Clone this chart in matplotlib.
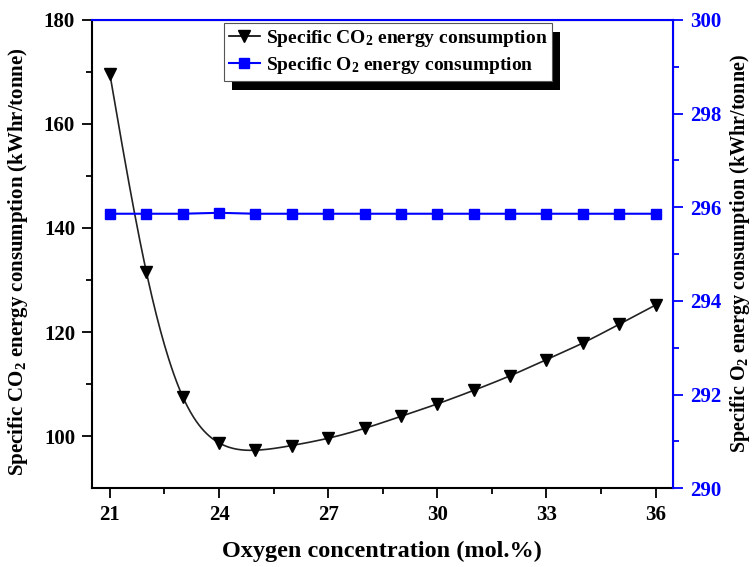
import numpy as np
import matplotlib
matplotlib.use("Agg")
import matplotlib.pyplot as plt
from matplotlib.patches import Rectangle

# ── DATA ─────────────────────────────────────────────────────────────────────
oxygen = [21, 22, 23, 24, 25, 26, 27, 28, 29, 30, 31, 32, 33, 34, 35, 36]
co2_energy = [169.5, 131.6, 107.6, 98.7, 97.3, 98.2, 99.6, 101.5, 103.8,
              106.2, 108.8, 111.6, 114.7, 117.9, 121.5, 125.2]
o2_energy = [295.86, 295.86, 295.86, 295.88, 295.86, 295.86, 295.86, 295.86,
             295.86, 295.86, 295.86, 295.86, 295.86, 295.86, 295.86, 295.86]

# ── STYLE ────────────────────────────────────────────────────────────────────
plt.rcParams["font.family"] = ["Liberation Serif", "DejaVu Serif"]
plt.rcParams["font.weight"] = "bold"
plt.rcParams["axes.labelweight"] = "bold"
plt.rcParams["mathtext.fontset"] = "custom"
plt.rcParams["mathtext.rm"] = "Liberation Serif:bold"
plt.rcParams["mathtext.it"] = "Liberation Serif:bold"
plt.rcParams["mathtext.bf"] = "Liberation Serif:bold"

BLUE = "#0000ff"


def natural_spline(x, y, n=400):
    """Natural cubic spline through the points (for the smooth line only)."""
    x = np.asarray(x, float)
    y = np.asarray(y, float)
    h = np.diff(x)
    k = len(x)
    A = np.zeros((k, k))
    r = np.zeros(k)
    A[0, 0] = A[-1, -1] = 1
    for i in range(1, k - 1):
        A[i, i - 1] = h[i - 1]
        A[i, i] = 2 * (h[i - 1] + h[i])
        A[i, i + 1] = h[i]
        r[i] = 6 * ((y[i + 1] - y[i]) / h[i] - (y[i] - y[i - 1]) / h[i - 1])
    m = np.linalg.solve(A, r)
    xs = np.linspace(x[0], x[-1], n)
    idx = np.clip(np.searchsorted(x, xs) - 1, 0, k - 2)
    x0, x1 = x[idx], x[idx + 1]
    hh = x1 - x0
    a = (x1 - xs) / hh
    b = (xs - x0) / hh
    ys = (a * y[idx] + b * y[idx + 1]
          + ((a ** 3 - a) * m[idx] + (b ** 3 - b) * m[idx + 1]) * hh ** 2 / 6)
    return xs, ys


# ── PLOT ─────────────────────────────────────────────────────────────────────
fig = plt.figure(figsize=(7.52, 5.67), dpi=100)
ax = fig.add_axes([0.122, 0.139, 0.773, 0.826])
ax2 = ax.twinx()

xs, ys = natural_spline(oxygen, co2_energy)
ax.plot(xs, ys, color="#222222", lw=1.2, zorder=2)
ax.plot(oxygen, co2_energy, ls="none", marker="v", ms=8.5, color="black", zorder=3)
co2_handle, = ax.plot([], [], color="black", lw=1.2, marker="v", ms=8.5)

ax2.plot(oxygen, o2_energy, color=BLUE, lw=1.5, marker="s", ms=7)
o2_handle, = ax2.plot([], [], color=BLUE, lw=1.5, marker="s", ms=7)

ax.set_xlim(20.5, 36.48)
ax.set_ylim(90, 180)
ax2.set_ylim(290, 300)

ax.set_xticks([21, 24, 27, 30, 33, 36])
ax.set_xticks(np.arange(22.5, 36, 3), minor=True)
ax.set_yticks([100, 120, 140, 160, 180])
ax.set_yticks([110, 130, 150, 170], minor=True)
ax2.set_yticks([290, 292, 294, 296, 298, 300])
ax2.set_yticks([291, 293, 295, 297, 299], minor=True)

ax.tick_params(axis="both", which="major", direction="out", length=7, width=1.3,
               labelsize=15, pad=5)
ax.tick_params(axis="both", which="minor", direction="out", length=4, width=1.3)
ax2.tick_params(axis="y", which="major", direction="out", length=7, width=1.3,
                labelsize=15, pad=5, colors=BLUE)
ax2.tick_params(axis="y", which="minor", direction="out", length=4, width=1.3,
                colors=BLUE)

for s in ["left", "bottom"]:
    ax.spines[s].set_linewidth(1.5)
ax2.spines["right"].set_color(BLUE)
ax2.spines["top"].set_color(BLUE)
ax2.spines["right"].set_linewidth(1.5)
ax2.spines["top"].set_linewidth(1.5)
ax2.spines["left"].set_visible(False)
ax2.spines["bottom"].set_visible(False)

ax.set_xlabel("Oxygen concentration (mol.%)", fontsize=17.5)
ax.xaxis.set_label_coords(0.5, -0.112)
ax.set_ylabel(r"Specific CO$\mathregular{_2}$ energy consumption (kWhr/tonne)",
              fontsize=15)
ax.yaxis.set_label_coords(-0.106, 0.483)
ax2.set_ylabel(r"Specific O$\mathregular{_2}$ energy consumption (kWhr/tonne)",
               fontsize=14.5, color="black")
ax2.yaxis.set_label_coords(1.094, 0.5)

leg = ax2.legend([co2_handle, o2_handle],
                 [r"Specific CO$\mathregular{_2}$ energy consumption",
                  r"Specific O$\mathregular{_2}$ energy consumption"],
                 loc="upper center", bbox_to_anchor=(0.51, 0.993),
                 fontsize=14, frameon=True, fancybox=False, framealpha=1,
                 edgecolor="#555555", handlelength=1.6, handletextpad=0.3,
                 borderpad=0.25, labelspacing=0.3, borderaxespad=0)
leg.get_frame().set_linewidth(0.8)

# black drop shadow behind the legend box
fig.canvas.draw()
bb = leg.get_window_extent().transformed(fig.transFigure.inverted())
dx, dy = 8 / 752, 9 / 567
shadow = Rectangle((bb.x0 + dx, bb.y0 - dy), bb.width, bb.height,
                   transform=fig.transFigure, facecolor="black",
                   edgecolor="none", zorder=leg.get_zorder() - 0.1)
ax2.add_artist(shadow)
shadow.set_clip_on(False)

fig.savefig("out.png", dpi=100)
